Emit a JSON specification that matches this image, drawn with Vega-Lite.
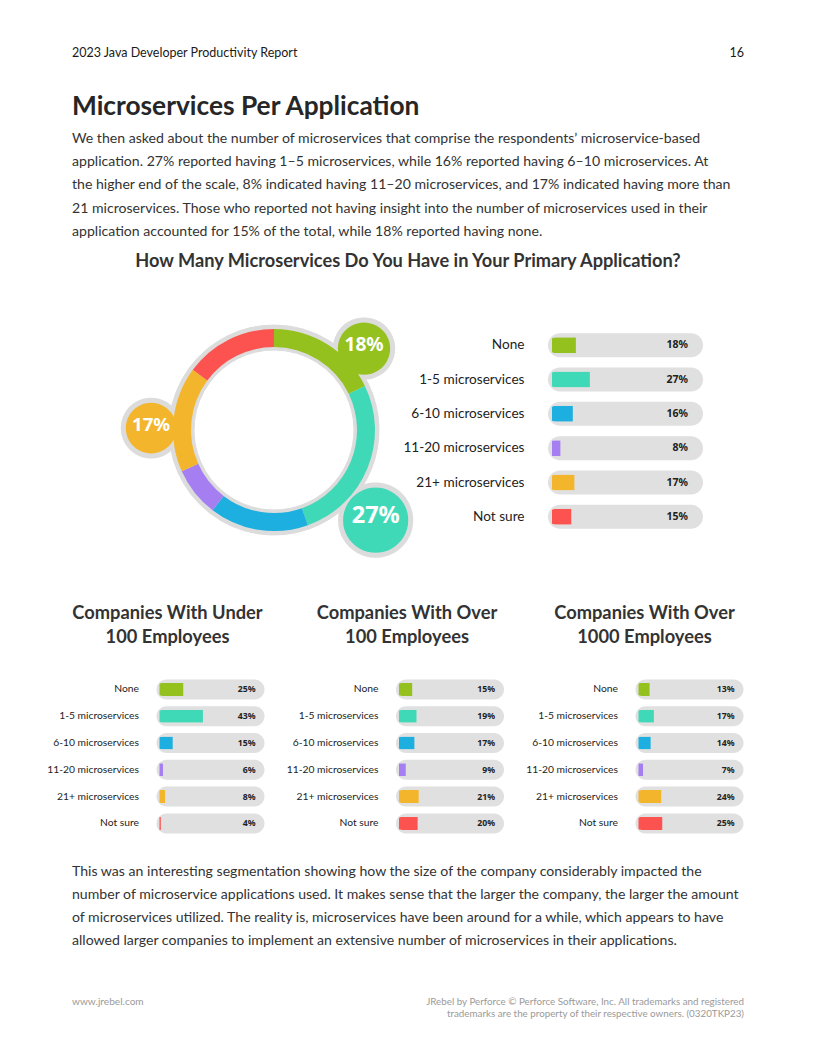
{
  "$schema": "https://vega.github.io/schema/vega-lite/v6.json",
  "padding": 0,
  "background": "white",
  "bounds": "flush",
  "spacing": 0,
  "config": {
    "view": {"stroke": null},
    "font": "Lato",
    "title": {"font": "Lato", "subtitleFont": "Lato", "color": "#262626", "frame": "group"}
  },
  "datasets": {
    "overall": [
      {"category": "None", "value": 0.18},
      {"category": "1-5 microservices", "value": 0.27},
      {"category": "6-10 microservices", "value": 0.16},
      {"category": "11-20 microservices", "value": 0.08},
      {"category": "21+ microservices", "value": 0.17},
      {"category": "Not sure", "value": 0.15}
    ],
    "bysize": [
      {"segment": "Under 100", "category": "None", "value": 0.25},
      {"segment": "Under 100", "category": "1-5 microservices", "value": 0.43},
      {"segment": "Under 100", "category": "6-10 microservices", "value": 0.15},
      {"segment": "Under 100", "category": "11-20 microservices", "value": 0.06},
      {"segment": "Under 100", "category": "21+ microservices", "value": 0.08},
      {"segment": "Under 100", "category": "Not sure", "value": 0.04},
      {"segment": "Over 100", "category": "None", "value": 0.15},
      {"segment": "Over 100", "category": "1-5 microservices", "value": 0.19},
      {"segment": "Over 100", "category": "6-10 microservices", "value": 0.17},
      {"segment": "Over 100", "category": "11-20 microservices", "value": 0.09},
      {"segment": "Over 100", "category": "21+ microservices", "value": 0.21},
      {"segment": "Over 100", "category": "Not sure", "value": 0.20},
      {"segment": "Over 1000", "category": "None", "value": 0.13},
      {"segment": "Over 1000", "category": "1-5 microservices", "value": 0.17},
      {"segment": "Over 1000", "category": "6-10 microservices", "value": 0.14},
      {"segment": "Over 1000", "category": "11-20 microservices", "value": 0.07},
      {"segment": "Over 1000", "category": "21+ microservices", "value": 0.24},
      {"segment": "Over 1000", "category": "Not sure", "value": 0.25}
    ],
    "blank": [{"k": 1}]
  },
  "vconcat": [
    {
      "hconcat": [
        {
          "width": 408, "height": 40,
          "data": {"name": "blank"},
          "mark": {"type": "point", "opacity": 0},
          "encoding": {},
          "title": {"text": "2023 Java Developer Productivity Report", "orient": "bottom", "anchor": "start", "dx": 72, "offset": 7, "fontSize": 12.5, "fontWeight": "normal", "color": "#1a1a1a"}
        },
        {
          "width": 408, "height": 40,
          "data": {"name": "blank"},
          "mark": {"type": "point", "opacity": 0},
          "encoding": {},
          "title": {"text": "16", "orient": "bottom", "anchor": "end", "dx": -72, "offset": 7, "fontSize": 12.5, "fontWeight": "normal", "color": "#1a1a1a"}
        }
      ],
      "spacing": 0,
      "bounds": "flush"
    },
    {
      "width": 816, "height": 95,
      "data": {"name": "blank"},
      "mark": {"type": "point", "opacity": 0},
      "encoding": {},
      "title": {
        "text": "Microservices Per Application",
        "subtitle": [
          "We then asked about the number of microservices that comprise the respondents’ microservice-based",
          "application. 27% reported having 1–5 microservices, while 16% reported having 6–10 microservices. At",
          "the higher end of the scale, 8% indicated having 11–20 microservices, and 17% indicated having more than",
          "21 microservices. Those who reported not having insight into the number of microservices used in their",
          "application accounted for 15% of the total, while 18% reported having none."
        ],
        "orient": "bottom", "anchor": "start", "dx": 72, "offset": -1,
        "fontSize": 26.3, "fontWeight": "bold", "color": "#262626",
        "subtitleFontSize": 14.1, "subtitleColor": "#333333", "subtitleLineHeight": 23.3, "subtitlePadding": 11.5
      }
    },
    {
      "width": 816, "height": 140,
      "data": {"name": "blank"},
      "mark": {"type": "point", "opacity": 0},
      "encoding": {},
      "title": {"text": "How Many Microservices Do You Have in Your Primary Application?", "orient": "bottom", "anchor": "middle", "offset": 18, "fontSize": 18.2, "fontWeight": "bold", "color": "#333333"}
    },
    {
      "width": 816, "height": 93,
      "data": {"name": "blank"},
      "mark": {"type": "point", "opacity": 0},
      "encoding": {}
    },
    {
      "hconcat": [
        {
          "width": 548, "height": 204,
          "data": {"name": "overall"},
          "transform": [{"window": [{"op": "row_number", "as": "idx"}]}],
          "encoding": {
            "theta": {"field": "value", "type": "quantitative", "stack": true},
            "order": {"field": "idx", "type": "quantitative"}
          },
          "layer": [
            {"mark": {"type": "arc", "innerRadius": 80, "outerRadius": 105, "fill": "#dcdcdc", "stroke": "#dcdcdc", "strokeWidth": 1}},
            {
              "mark": {"type": "text", "text": "●", "font": "DejaVu Sans", "align": "center", "baseline": "middle", "stroke": "#dcdcdc", "strokeWidth": 5},
              "encoding": {
                "theta": {"field": "value", "type": "quantitative", "stack": true, "scale": {"type": "pow", "exponent": 0.82, "domain": [0, 1.09]}},
                "radius": {"field": "value", "type": "quantitative", "scale": {"type": "linear", "zero": false, "domain": [0.17, 0.27], "range": [123, 133]}},
                "size": {"field": "value", "type": "quantitative", "scale": {"type": "sqrt", "domain": [0, 0.27], "range": [0, 92]}, "legend": null},
                "color": {"field": "category", "type": "nominal", "scale": {"domain": ["None", "1-5 microservices", "6-10 microservices", "11-20 microservices", "21+ microservices", "Not sure"], "range": ["#95c11f", "#40d9b8", "#1cafdf", "#a57ff2", "#f3b52b", "#fc5350"]}, "legend": null},
                "opacity": {"condition": {"test": "datum.value >= 0.17", "value": 1}, "value": 0}
              }
            },
            {
              "mark": {"type": "arc", "innerRadius": 83, "outerRadius": 101},
              "encoding": {
                "color": {"field": "category", "type": "nominal", "legend": null}
              }
            },
            {
              "mark": {"type": "text", "align": "center", "baseline": "middle", "fill": "white", "fontWeight": "bold", "font": "Noto Sans"},
              "encoding": {
                "theta": {"field": "value", "type": "quantitative", "stack": true, "scale": {"type": "pow", "exponent": 0.82, "domain": [0, 1.09]}},
                "radius": {"field": "value", "type": "quantitative", "scale": {"type": "linear", "zero": false, "domain": [0.17, 0.27], "range": [123, 133]}},
                "text": {"field": "value", "type": "quantitative", "format": ".0%"},
                "size": {"field": "value", "type": "quantitative", "scale": {"type": "sqrt", "domain": [0, 0.27], "range": [0, 23.5]}, "legend": null},
                "opacity": {"condition": {"test": "datum.value >= 0.17", "value": 1}, "value": 0}
              }
            }
          ],
          "resolve": {"scale": {"size": "independent", "theta": "independent"}}
        },
        {
          "width": 155, "height": 206,
          "data": {"name": "overall"},
          "encoding": {
            "y": {"field": "category", "type": "nominal", "sort": null, "scale": {"paddingInner": 0, "paddingOuter": 0},
              "axis": {"title": null, "domain": false, "ticks": false, "labelPadding": 24, "labelFontSize": 13.6, "labelColor": "#222222", "labelFont": "Lato"}}
          },
          "layer": [
            {
              "mark": {"type": "bar", "height": 24, "cornerRadius": 12, "fill": "#e0e0e0"},
              "encoding": {"x": {"datum": 0, "type": "quantitative", "scale": {"domain": [0, 1]}, "axis": null}, "x2": {"datum": 1}}
            },
            {
              "mark": {"type": "bar", "height": 16, "cornerRadiusTopLeft": 8, "cornerRadiusBottomLeft": 8, "xOffset": 4, "x2Offset": 4},
              "encoding": {
                "x": {"field": "value", "type": "quantitative"},
                "color": {"field": "category", "type": "nominal", "scale": {"domain": ["None", "1-5 microservices", "6-10 microservices", "11-20 microservices", "21+ microservices", "Not sure"], "range": ["#95c11f", "#40d9b8", "#1cafdf", "#a57ff2", "#f3b52b", "#fc5350"]}, "legend": null}
              }
            },
            {
              "mark": {"type": "text", "align": "right", "baseline": "middle", "dx": -15, "fontSize": 10.5, "fontWeight": "bold", "fill": "#222222", "font": "Noto Sans"},
              "encoding": {"x": {"datum": 1, "type": "quantitative"}, "text": {"field": "value", "type": "quantitative", "format": ".0%"}}
            }
          ]
        }
      ],
      "spacing": 0,
      "bounds": "flush"
    },
    {
      "width": 816, "height": 347.6,
      "data": {"name": "blank"},
      "mark": {"type": "point", "opacity": 0},
      "encoding": {}
    },
    {
      "hconcat": [
        {
          "width": 24.5, "height": 1,
          "data": {"name": "blank"},
          "mark": {"type": "point", "opacity": 0},
          "encoding": {}
        },
        {
          "width": 108, "height": 160.8,
          "data": {"name": "bysize"},
          "transform": [{"filter": "datum.segment === 'Under 100'"}],
          "title": {"text": ["Companies With Under", "100 Employees"], "orient": "top", "anchor": "middle", "dx": -43, "offset": 29, "fontSize": 18.3, "fontWeight": "bold", "lineHeight": 24, "color": "#333333"},
          "encoding": {
            "y": {"field": "category", "type": "nominal", "sort": null, "scale": {"paddingInner": 0, "paddingOuter": 0},
              "axis": {"title": null, "domain": false, "ticks": false, "labelPadding": 18, "labelFontSize": 10.3, "labelColor": "#222222", "labelFont": "Lato"}}
          },
          "layer": [
            {
              "mark": {"type": "bar", "height": 20, "cornerRadius": 10, "fill": "#e0e0e0"},
              "encoding": {"x": {"datum": 0, "type": "quantitative", "scale": {"domain": [0, 1]}, "axis": null}, "x2": {"datum": 1}}
            },
            {
              "mark": {"type": "bar", "height": 13, "cornerRadiusTopLeft": 6.5, "cornerRadiusBottomLeft": 6.5, "xOffset": 3, "x2Offset": 3},
              "encoding": {
                "x": {"field": "value", "type": "quantitative"},
                "color": {"field": "category", "type": "nominal", "scale": {"domain": ["None", "1-5 microservices", "6-10 microservices", "11-20 microservices", "21+ microservices", "Not sure"], "range": ["#95c11f", "#40d9b8", "#1cafdf", "#a57ff2", "#f3b52b", "#fc5350"]}, "legend": null}
              }
            },
            {
              "mark": {"type": "text", "align": "right", "baseline": "middle", "dx": -9, "fontSize": 8.7, "fontWeight": "bold", "fill": "#222222", "font": "Noto Sans"},
              "encoding": {"x": {"datum": 1, "type": "quantitative"}, "text": {"field": "value", "type": "quantitative", "format": ".0%"}}
            }
          ]
        },
        {
          "width": 108, "height": 160.8,
          "data": {"name": "bysize"},
          "transform": [{"filter": "datum.segment === 'Over 100'"}],
          "title": {"text": ["Companies With Over", "100 Employees"], "orient": "top", "anchor": "middle", "dx": -43, "offset": 29, "fontSize": 18.3, "fontWeight": "bold", "lineHeight": 24, "color": "#333333"},
          "encoding": {
            "y": {"field": "category", "type": "nominal", "sort": null, "scale": {"paddingInner": 0, "paddingOuter": 0},
              "axis": {"title": null, "domain": false, "ticks": false, "labelPadding": 18, "labelFontSize": 10.3, "labelColor": "#222222", "labelFont": "Lato"}}
          },
          "layer": [
            {
              "mark": {"type": "bar", "height": 20, "cornerRadius": 10, "fill": "#e0e0e0"},
              "encoding": {"x": {"datum": 0, "type": "quantitative", "scale": {"domain": [0, 1]}, "axis": null}, "x2": {"datum": 1}}
            },
            {
              "mark": {"type": "bar", "height": 13, "cornerRadiusTopLeft": 6.5, "cornerRadiusBottomLeft": 6.5, "xOffset": 3, "x2Offset": 3},
              "encoding": {
                "x": {"field": "value", "type": "quantitative"},
                "color": {"field": "category", "type": "nominal", "scale": {"domain": ["None", "1-5 microservices", "6-10 microservices", "11-20 microservices", "21+ microservices", "Not sure"], "range": ["#95c11f", "#40d9b8", "#1cafdf", "#a57ff2", "#f3b52b", "#fc5350"]}, "legend": null}
              }
            },
            {
              "mark": {"type": "text", "align": "right", "baseline": "middle", "dx": -9, "fontSize": 8.7, "fontWeight": "bold", "fill": "#222222", "font": "Noto Sans"},
              "encoding": {"x": {"datum": 1, "type": "quantitative"}, "text": {"field": "value", "type": "quantitative", "format": ".0%"}}
            }
          ]
        },
        {
          "width": 108, "height": 160.8,
          "data": {"name": "bysize"},
          "transform": [{"filter": "datum.segment === 'Over 1000'"}],
          "title": {"text": ["Companies With Over", "1000 Employees"], "orient": "top", "anchor": "middle", "dx": -45, "offset": 29, "fontSize": 18.3, "fontWeight": "bold", "lineHeight": 24, "color": "#333333"},
          "encoding": {
            "y": {"field": "category", "type": "nominal", "sort": null, "scale": {"paddingInner": 0, "paddingOuter": 0},
              "axis": {"title": null, "domain": false, "ticks": false, "labelPadding": 18, "labelFontSize": 10.3, "labelColor": "#222222", "labelFont": "Lato"}}
          },
          "layer": [
            {
              "mark": {"type": "bar", "height": 20, "cornerRadius": 10, "fill": "#e0e0e0"},
              "encoding": {"x": {"datum": 0, "type": "quantitative", "scale": {"domain": [0, 1]}, "axis": null}, "x2": {"datum": 1}}
            },
            {
              "mark": {"type": "bar", "height": 13, "cornerRadiusTopLeft": 6.5, "cornerRadiusBottomLeft": 6.5, "xOffset": 3, "x2Offset": 3},
              "encoding": {
                "x": {"field": "value", "type": "quantitative"},
                "color": {"field": "category", "type": "nominal", "scale": {"domain": ["None", "1-5 microservices", "6-10 microservices", "11-20 microservices", "21+ microservices", "Not sure"], "range": ["#95c11f", "#40d9b8", "#1cafdf", "#a57ff2", "#f3b52b", "#fc5350"]}, "legend": null}
              }
            },
            {
              "mark": {"type": "text", "align": "right", "baseline": "middle", "dx": -9, "fontSize": 8.7, "fontWeight": "bold", "fill": "#222222", "font": "Noto Sans"},
              "encoding": {"x": {"datum": 1, "type": "quantitative"}, "text": {"field": "value", "type": "quantitative", "format": ".0%"}}
            }
          ]
        }
      ],
      "spacing": 131.5,
      "bounds": "flush"
    },
    {
      "width": 816, "height": 189.8,
      "data": {"name": "blank"},
      "mark": {"type": "point", "opacity": 0},
      "encoding": {},
      "title": {
        "text": [
          "This was an interesting segmentation showing how the size of the company considerably impacted the",
          "number of microservice applications used. It makes sense that the larger the company, the larger the amount",
          "of microservices utilized. The reality is, microservices have been around for a while, which appears to have",
          "allowed larger companies to implement an extensive number of microservices in their applications."
        ],
        "orient": "bottom", "anchor": "start", "dx": 72, "offset": -1,
        "fontSize": 14.1, "fontWeight": "normal", "lineHeight": 23.2, "color": "#333333"
      }
    },
    {
      "hconcat": [
        {
          "width": 408, "height": 125,
          "data": {"name": "blank"},
          "mark": {"type": "point", "opacity": 0},
          "encoding": {},
          "title": {"text": "www.jrebel.com", "orient": "bottom", "anchor": "start", "dx": 72, "offset": 6, "fontSize": 10.1, "fontWeight": "normal", "color": "#9a9a9a"}
        },
        {
          "width": 408, "height": 125,
          "data": {"name": "blank"},
          "mark": {"type": "point", "opacity": 0},
          "encoding": {},
          "title": {"text": ["JRebel by Perforce © Perforce Software, Inc. All trademarks and registered", "trademarks are the property of their respective owners. (0320TKP23)"], "orient": "bottom", "anchor": "end", "dx": -72, "offset": 6, "fontSize": 9.8, "lineHeight": 12, "fontWeight": "normal", "color": "#9a9a9a"}
        }
      ],
      "spacing": 0,
      "bounds": "flush"
    }
  ]
}
